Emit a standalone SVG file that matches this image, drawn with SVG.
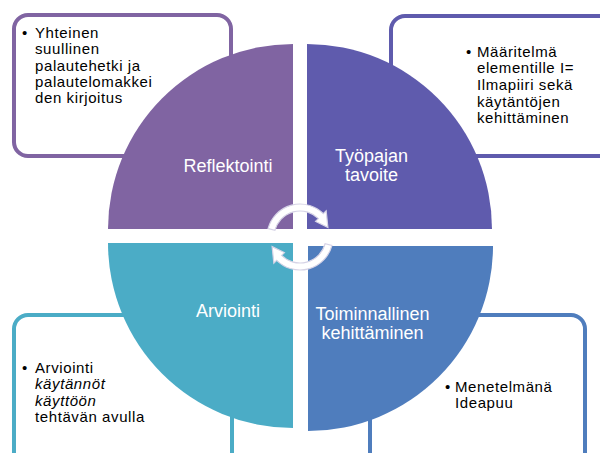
<svg xmlns="http://www.w3.org/2000/svg" width="600" height="453" viewBox="0 0 600 453">
<style>
.box{fill:#fff;stroke-width:4}
.lbl{font-family:"Liberation Sans",Arial,sans-serif;font-size:18px;fill:#fff;text-anchor:middle}
.txt{font-family:"Liberation Sans",Arial,sans-serif;font-size:15px;fill:#000;letter-spacing:0.6px}
.bul{font-family:"Liberation Sans",Arial,sans-serif;font-size:15px;fill:#000}
.arr{fill:#fff;stroke:#D6D3E6;stroke-width:1.2}
</style>
<rect width="600" height="453" fill="#fff"/>
<g id="box-reflektointi">
<rect class="box" x="14" y="15" width="217" height="141" rx="14" stroke="#8064A2"/>
<text class="bul" x="22" y="37.7">•</text>
<text class="txt" x="35" y="37.7">Yhteinen</text>
<text class="txt" x="35" y="54.1">suullinen</text>
<text class="txt" x="35" y="70.5">palautehetki ja</text>
<text class="txt" x="35" y="86.9">palautelomakkei</text>
<text class="txt" x="35" y="103.3">den kirjoitus</text>
</g>
<g id="box-tavoite">
<rect class="box" x="391" y="16" width="230" height="140" rx="14" stroke="#5F5BAD"/>
<text class="bul" x="466" y="56.7">•</text>
<text class="txt" x="477" y="56.7">Määritelmä</text>
<text class="txt" x="477" y="73.3">elementille I=</text>
<text class="txt" x="477" y="90">Ilmapiiri sekä</text>
<text class="txt" x="477" y="106.6">käytäntöjen</text>
<text class="txt" x="477" y="123.2">kehittäminen</text>
</g>
<g id="box-arviointi">
<rect class="box" x="14" y="315" width="218" height="160" rx="14" stroke="#4BACC6"/>
<text class="bul" x="22" y="372.7">•</text>
<text class="txt" x="35" y="372.7">Arviointi</text>
<text class="txt" x="35" y="389.1" font-style="italic">käytännöt</text>
<text class="txt" x="35" y="405.5" font-style="italic">käyttöön</text>
<text class="txt" x="35" y="421.9">tehtävän avulla</text>
</g>
<g id="box-toiminnallinen">
<rect class="box" x="370" y="315" width="215" height="160" rx="14" stroke="#4F7DBD"/>
<text class="bul" x="445" y="391.7">•</text>
<text class="txt" x="455" y="391.7">Menetelmänä</text>
<text class="txt" x="455" y="408.3">Ideapuu</text>
</g>
<g id="q-reflektointi">
<path d="M293,229 L108,229 A185,185 0 0 1 293,44 Z" fill="#8064A2"/>
<text class="lbl" x="228" y="171.7">Reflektointi</text>
</g>
<g id="q-tavoite">
<path d="M307,229 L307,44 A185,185 0 0 1 492,229 Z" fill="#5F5BAD"/>
<text class="lbl" x="371.5" y="162.3">Työpajan</text>
<text class="lbl" x="371.5" y="180.6">tavoite</text>
</g>
<g id="q-arviointi">
<path d="M293,243 L293,428 A185,185 0 0 1 108,243 Z" fill="#4BACC6"/>
<text class="lbl" x="228" y="316.7">Arviointi</text>
</g>
<g id="q-toiminnallinen">
<path d="M308,246 L493,246 A185,185 0 0 1 308,431 Z" fill="#4F7DBD"/>
<text class="lbl" x="372.5" y="320.3" font-size="17">Toiminnallinen</text>
<text class="lbl" x="372.5" y="338.6" font-size="17">kehittäminen</text>
</g>
<g id="connectors">
<path class="arr" d="M268.12,228.46 A33,33 0 0 1 323.33,213.67 L326.16,210.84 L327.89,227.39 L315.56,221.44 L318.38,218.62 A26,26 0 0 0 274.89,230.27 Z"/>
<path class="arr" transform="rotate(180 300 237)" d="M268.12,228.46 A33,33 0 0 1 323.33,213.67 L326.16,210.84 L327.89,227.39 L315.56,221.44 L318.38,218.62 A26,26 0 0 0 274.89,230.27 Z"/>
</g>
</svg>
